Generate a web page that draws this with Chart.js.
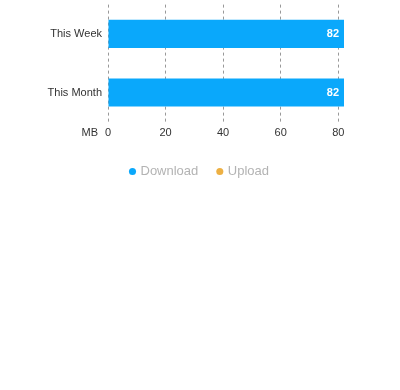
<!DOCTYPE html>
<html>
<head>
<meta charset="utf-8">
<script src="https://cdn.jsdelivr.net/npm/chart.js@4"></script>
<style>
  html, body { margin: 0; padding: 0; background: #fff; }
  #wrap { position: relative; width: 400px; height: 188px; }
</style>
</head>
<body>
<div id="wrap"><canvas id="usageChart"></canvas></div>
<script>
// values
var periods = ['This Week', 'This Month'];
var downloadMB = [82, 82];
var uploadMB = [0, 0];
var xTicks = [0, 20, 40, 60, 80];

var FONT = "'Liberation Sans', Arial, sans-serif";

// white value label at the end of each download bar
var valueLabels = {
    id: 'valueLabels',
    afterDatasetsDraw(chart) {
        var ctx = chart.ctx;
        var meta = chart.getDatasetMeta(0);
        ctx.save();
        ctx.fillStyle = '#fff';
        ctx.font = 'bold 11px ' + FONT;
        ctx.textAlign = 'right';
        ctx.textBaseline = 'middle';
        meta.data.forEach(function (bar, i) {
            ctx.fillText(String(downloadMB[i]), bar.x - 5, bar.y);
        });
        ctx.restore();
    }
};

// unit label to the left of the x axis ticks
var unitLabel = {
    id: 'unitLabel',
    afterDraw(chart) {
        var ctx = chart.ctx;
        var x = chart.scales.x;
        ctx.save();
        ctx.fillStyle = '#333';
        ctx.font = '11px ' + FONT;
        ctx.textAlign = 'right';
        ctx.textBaseline = 'middle';
        ctx.fillText('MB', x.left - 10, x.top + 11);
        ctx.restore();
    }
};

// legend is centred on the whole canvas, not on the padded area
var centerLegend = {
    id: 'centerLegend',
    afterLayout(chart) {
        chart.legend.left += 28;
        chart.legend.right += 28;
    }
};

new Chart(document.getElementById('usageChart'), {
    type: 'bar',
    data: {
        labels: periods,
        datasets: [{
            label: 'Download',
            data: downloadMB,
            backgroundColor: '#0AA8FB',
            barPercentage: 0.48,
            categoryPercentage: 1
        }, {
            label: 'Upload',
            data: uploadMB,
            backgroundColor: '#EDB043',
            barPercentage: 0.48,
            categoryPercentage: 1
        }]
    },
    options: {
        indexAxis: 'y',
        responsive: true,
        maintainAspectRatio: false,
        animation: false,
        layout: { padding: { top: -7, right: 56, left: 0, bottom: 0 } },
        scales: {
            x: {
                stacked: true,
                min: 0,
                max: 82,
                afterBuildTicks(scale) {
                    scale.ticks = xTicks.map(function (v) { return { value: v }; });
                },
                grid: {
                    color: '#999',
                    drawTicks: false
                },
                border: { display: true, width: 0, color: 'rgba(0,0,0,0)', dash: [3, 3] },
                ticks: {
                    color: '#333',
                    font: { family: FONT, size: 11 },
                    padding: 5
                }
            },
            y: {
                stacked: true,
                grid: { display: false },
                border: { display: false },
                afterFit(scale) { scale.width = 108; },
                ticks: {
                    color: '#333',
                    font: { family: FONT, size: 11 },
                    padding: -2
                }
            }
        },
        plugins: {
            tooltip: { enabled: false },
            legend: {
                position: 'bottom',
                labels: {
                    usePointStyle: true,
                    pointStyle: 'circle',
                    boxWidth: 3,
                    boxHeight: 5,
                    color: '#b3b3b3',
                    padding: 20,
                    font: { family: FONT, size: 13 }
                }
            }
        }
    },
    plugins: [valueLabels, unitLabel, centerLegend]
});
</script>
</body>
</html>
